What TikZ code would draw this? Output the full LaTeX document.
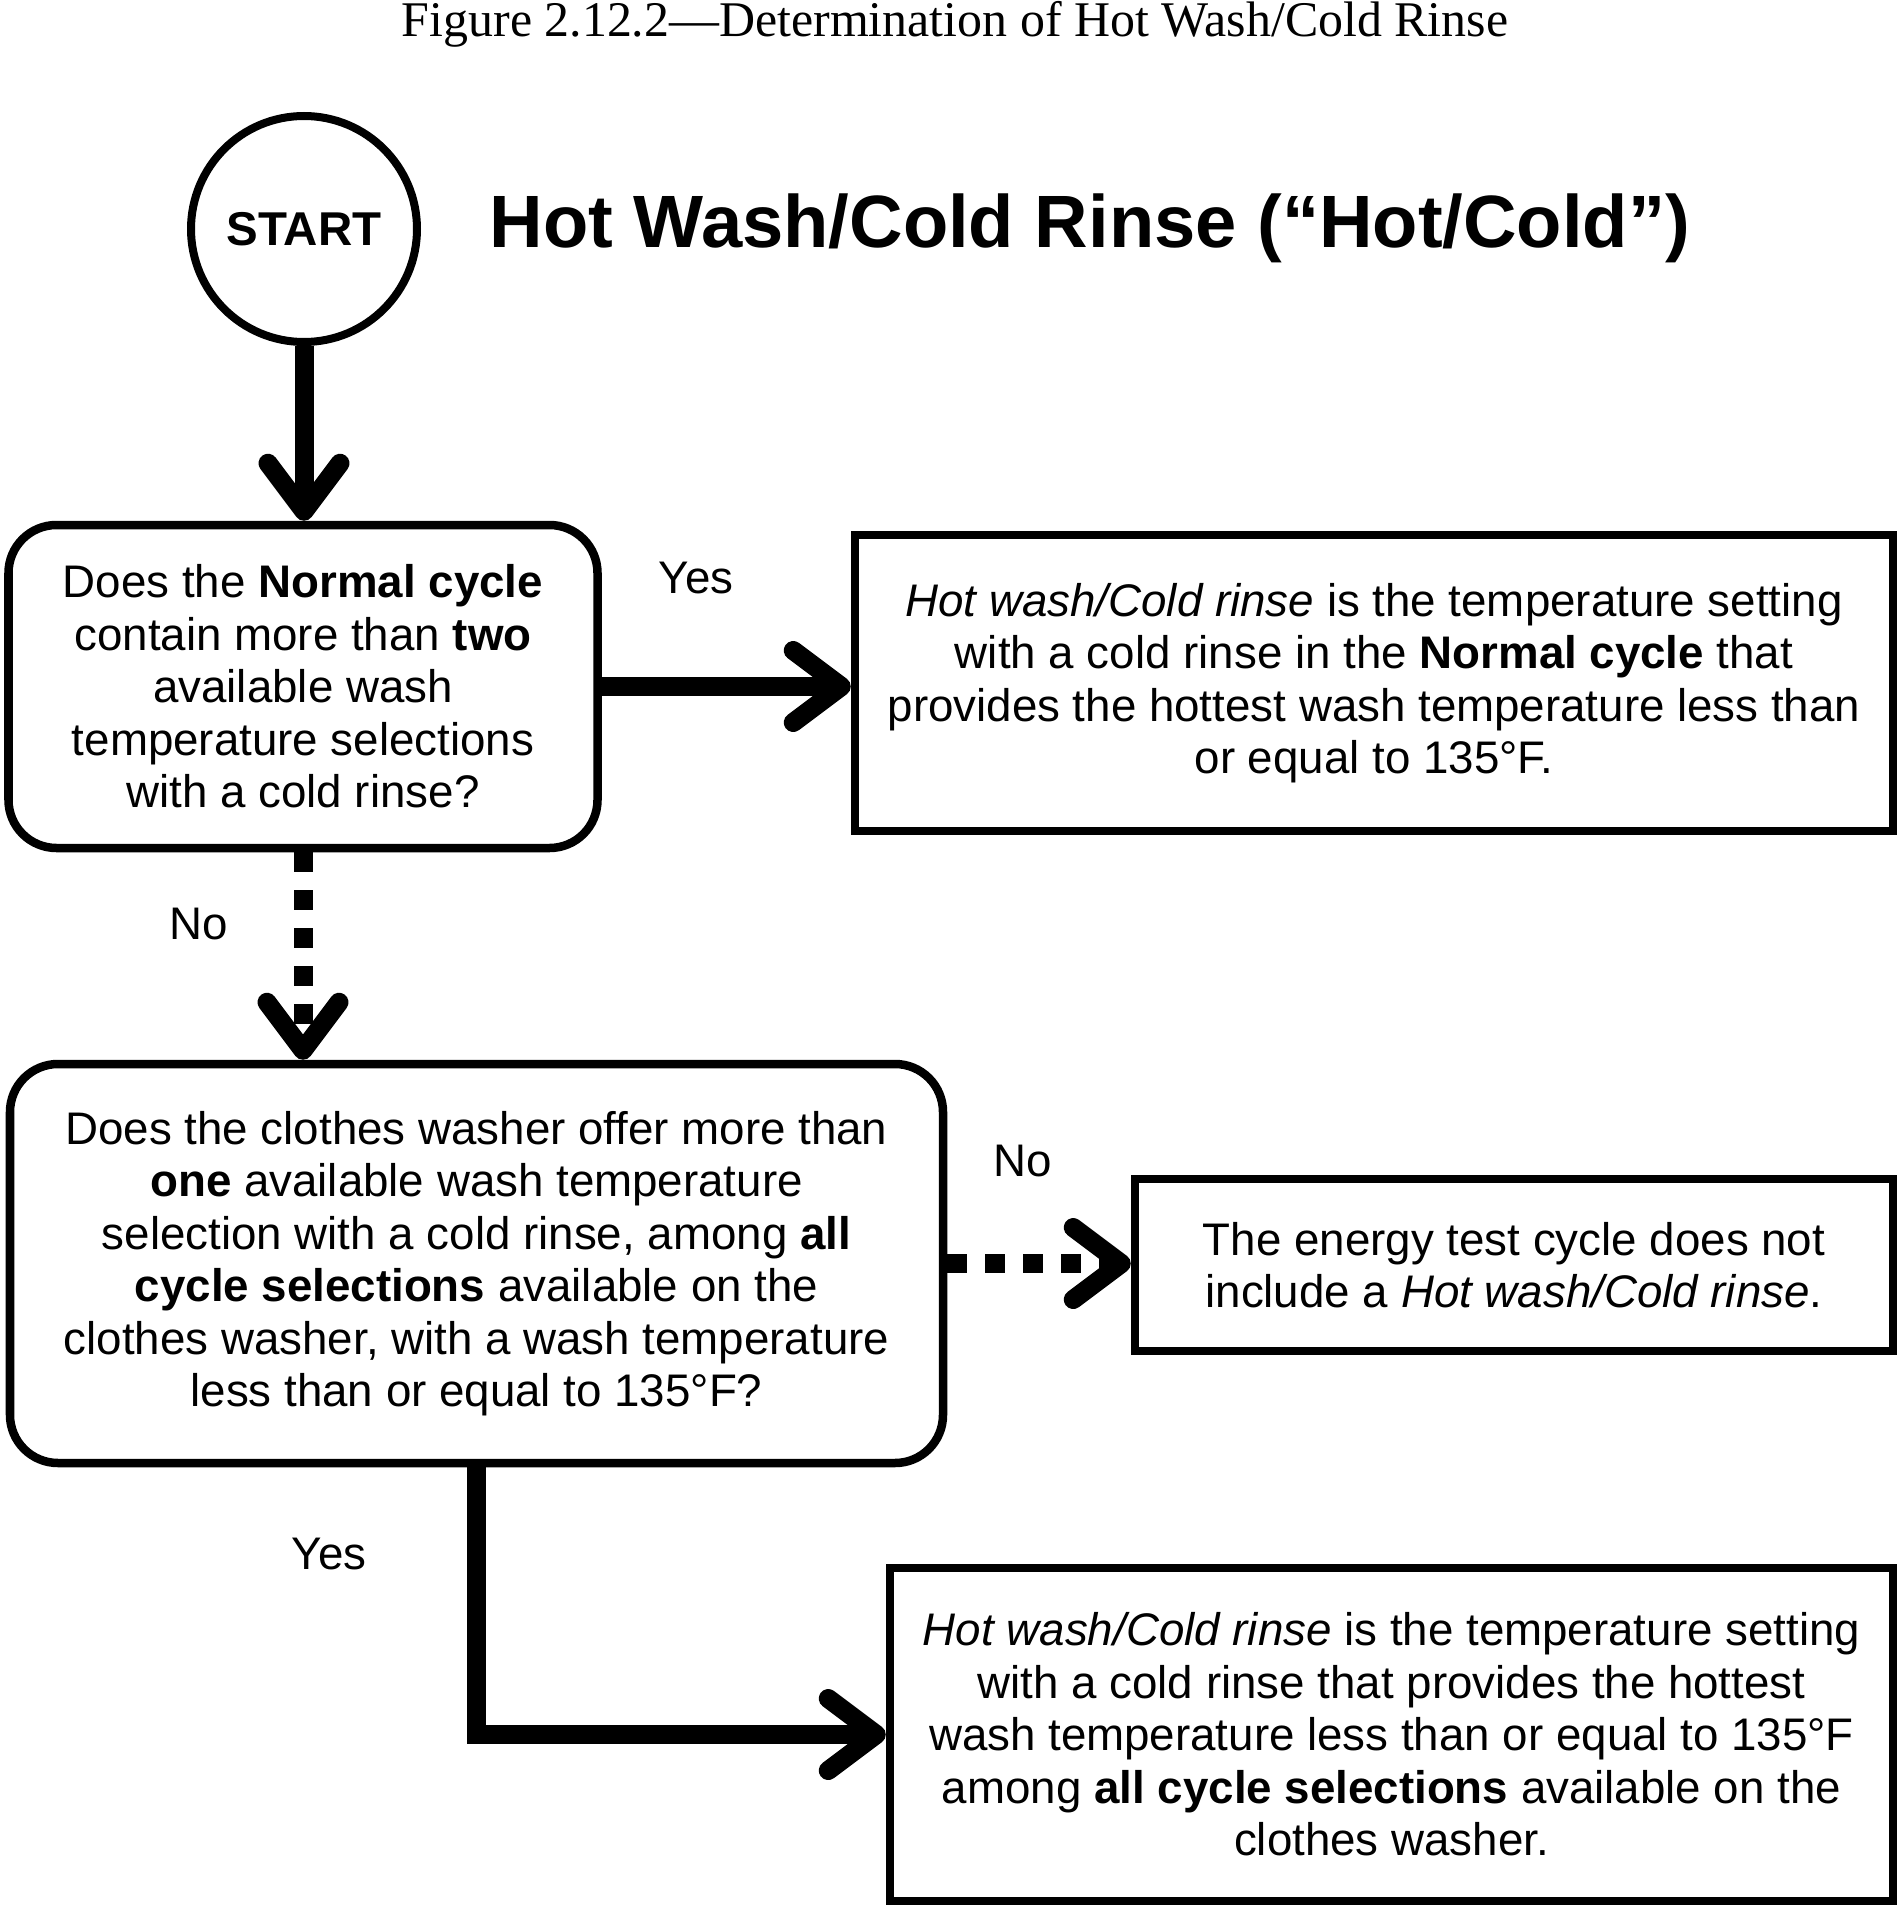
\documentclass[tikz,border=0pt]{standalone}
\usepackage{fontspec}
\setmainfont{Liberation Sans}
\newfontfamily\captionserif{Liberation Serif}
\usetikzlibrary{arrows.meta}

\tikzset{
  flowbox/.style={draw, line width=0.085cm, inner sep=0pt, align=center,
    font=\fontsize{13}{14.94}\selectfont},
  askbox/.style={flowbox, rounded corners=0.48cm},
  tellbox/.style={flowbox},
  answer/.style={inner sep=0pt, font=\fontsize{13}{14.94}\selectfont},
  flowarrow/.style={line width=0.19cm, -{Straight Barb[length=0.48cm, width=0.72cm, round]}},
  dotarrow/.style={flowarrow, dash pattern=on 0.2cm off 0.18cm}
}

\begin{document}
\begin{tikzpicture}
		\useasboundingbox (0,0) rectangle (19.03,-19.11);
		\node[anchor=base, inner sep=0pt, font=\captionserif\fontsize{14.2}{17}\selectfont] (caption) at (9.55,-0.37) {Figure 2.12.2—Determination of Hot Wash/Cold Rinse};
		
		\node[circle, draw, line width=0.08cm, minimum size=2.26cm, inner sep=0pt, font=\fontsize{13.5}{16}\selectfont\bfseries] (start) at (3.04,-2.29) {START};
		\node[anchor=base west, inner sep=0pt, font=\fontsize{21.1}{25}\selectfont\bfseries] (title) at (4.89,-2.47) {Hot Wash/Cold Rinse (“Hot/Cold”)};
		
		\node[askbox, minimum width=5.89cm, minimum height=3.23cm] (normal) at (3.03,-6.865) {Does the \textbf{Normal cycle}\\contain more than \textbf{two}\\available wash\\temperature selections\\with a cold rinse?};
		\node[tellbox, minimum width=10.38cm, minimum height=2.96cm] (normalyes) at (13.74,-6.83) {\textit{Hot wash/Cold rinse} is the temperature setting\\with a cold rinse in the \textbf{Normal cycle} that\\provides the hottest wash temperature less than\\or equal to 135°F.};
		
		\node[askbox, minimum width=9.33cm, minimum height=3.99cm] (allcycles) at (4.765,-12.635) {Does the clothes washer offer more than\\\textbf{one} available wash temperature\\selection with a cold rinse, among \textbf{all}\\\textbf{cycle selections} available on the\\clothes washer, with a wash temperature\\less than or equal to 135°F?};
		\node[tellbox, minimum width=7.58cm, minimum height=1.72cm] (allno) at (15.14,-12.65) {The energy test cycle does not\\include a \textit{Hot wash/Cold rinse}.};
		\node[tellbox, minimum width=10.03cm, minimum height=3.33cm] (allyes) at (13.915,-17.345) {\textit{Hot wash/Cold rinse} is the temperature setting\\with a cold rinse that provides the hottest\\wash temperature less than or equal to 135°F\\among \textbf{all cycle selections} available on the\\clothes washer.};
		
		\node[answer] (yesa) at (6.96,-5.78) {Yes};
		\node[answer] (noa) at (1.99,-9.24) {No};
		\node[answer] (nob) at (10.23,-11.61) {No};
		\node[answer] (yesb) at (3.29,-15.54) {Yes};
		
		\draw[flowarrow] (start.south) -- (start.south |- normal.north);
		\draw[flowarrow] (normal.east) -- (normal.east -| normalyes.west);
		\draw[dotarrow] (normal.south) -- (normal.south |- allcycles.north);
		\draw[dotarrow] (allcycles.east) -- (allcycles.east -| allno.west);
		\draw[flowarrow] (allcycles.south) |- (allyes.west);
	\end{tikzpicture}
\end{document}
